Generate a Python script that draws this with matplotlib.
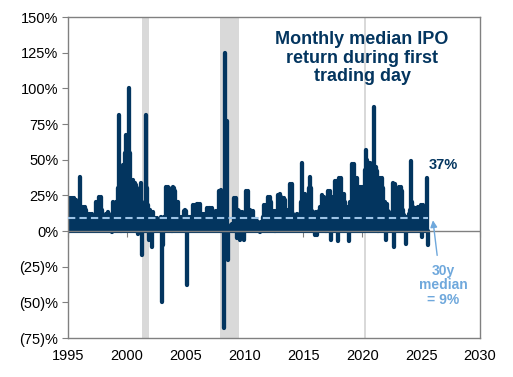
import matplotlib
matplotlib.use("Agg")
import matplotlib.pyplot as plt
import numpy as np

# monthly median first-day IPO return (%), Jan 1995 onwards
r1995 = [5, 8, 23, 22, 23, 20, 23, 21, 22, 13, 12, 15]
r1996 = [38, 12, 10, 17, 16, 17, 15, 8, 7, 12, 12, 11]
r1997 = [12, 8, 7, 6, 20, 18, 20, 24, 22, 24, 15, 10]
r1998 = [7, 6, 12, 11, 13, 12, 4, 3, -1, 20, 15, 18]
r1999 = [20, 16, 30, 81, 25, 20, 36, 30, 46, 40, 55, 67]
r2000 = [50, 60, 100, 55, 36, 34, 36, 33, 34, 32, 30, -2]
r2001 = [27, 26, 34, -17, 12, 14, 20, 81, 30, 18, -6, 15]
r2002 = [13, -11, 13, 9, 9, 8, 9, 4, 5, 4, 10, -50]
r2003 = [-10, 10, 8, 31, 28, 31, 30, 22, 18, 22, 20, 31]
r2004 = [30, 28, 18, 20, 20, 10, 8, 10, 9, 10, 14, 15]
r2005 = [14, -38, 10, 9, 10, 8, 10, 18, 17, 18, 15, 19]
r2006 = [19, 18, 19, 12, 12, 10, 12, 9, 10, 16, 15, 16]
r2007 = [16, 14, 16, 14, 12, 13, 14, 10, 12, 28, 22, 29]
r2008 = [20, 10, -68, 8, 125, 10, 77, -20, 3, 0, 4, 5]
r2009 = [5, 23, 20, 23, -5, 15, 14, -6, 12, 13, 12, -6]
r2010 = [13, 28, 25, 28, 14, 15, 14, 13, 14, 8, 7, 8]
r2011 = [7, 6, 5, -1, 6, 5, 10, 18, 15, 18, 12, 24]
r2012 = [22, 24, 20, 14, 12, 14, 10, 13, 14, 10, 25, 22]
r2013 = [26, 24, 22, 20, 23, 22, 14, 12, 15, 13, 33, 28]
r2014 = [33, 12, 9, 10, 8, 12, 10, 9, 12, 20, 48, 26]
r2015 = [12, 26, 13, 14, 20, 30, 38, 30, 14, 13, 12, -3]
r2016 = [13, -3, 10, 14, 17, 15, 25, 22, 24, 13, 12, 14]
r2017 = [14, 28, 25, 28, -6, 24, 22, 20, 35, 30, 35, -7]
r2018 = [37, 33, 37, 26, 25, 26, 20, 17, 15, 17, -7, 20]
r2019 = [18, 47, 40, 47, 37, 33, 37, 30, 31, 25, 31, 28]
r2020 = [31, 28, 43, 57, 50, 45, 48, 48, 45, 44, 48, 87]
r2021 = [45, 45, 42, 37, 37, 35, 37, 30, 37, 30, 19, 20]
r2022 = [-6, 19, 14, 13, 10, 8, 10, 34, -11, 33, 20, 19]
r2023 = [20, 31, 25, 31, 28, 15, 11, 10, -9, 10, 8, 12]
r2024 = [15, 49, 20, 17, 16, 15, 16, 14, 17, 15, 16, 18]
r2025 = [-4, 18, 15, 12, 14, 37, -10]

returns = np.array(r1995 + r1996 + r1997 + r1998 + r1999 + r2000 + r2001
                   + r2002 + r2003 + r2004 + r2005 + r2006 + r2007 + r2008
                   + r2009 + r2010 + r2011 + r2012 + r2013 + r2014 + r2015
                   + r2016 + r2017 + r2018 + r2019 + r2020 + r2021 + r2022
                   + r2023 + r2024 + r2025, dtype=float)
start_year = 1995
months = start_year + (np.arange(len(returns)) + 0.5) / 12.0

median_30y = 9
latest_label = "37%"

# recessions (decimal years)
recessions = [(2001.25, 2001.92), (2007.92, 2009.5), (2020.12, 2020.29)]

NAVY = "#03355F"
LIGHT_BLUE = "#9DC3E6"
ARROW_BLUE = "#6FA8DC"
GREY = "#808080"

plt.rcParams["font.family"] = ["Liberation Sans", "DejaVu Sans"]

fig = plt.figure(figsize=(5.13, 3.77), dpi=100)
ax = fig.add_axes([0.1326, 0.1034, 0.8031, 0.8515])

for a, b in recessions:
    ax.axvspan(a, b, color="#D9D9D9", lw=0, zorder=0)

ax.vlines(months, 0, returns, color=NAVY, lw=3.1, capstyle="round", zorder=2)
ax.plot([start_year, months[-1]], [median_30y, median_30y], color=LIGHT_BLUE,
        lw=1.5, dashes=(3.5, 2), zorder=3)
ax.axhline(0, color=GREY, lw=1.0, zorder=3)

ax.set_xlim(1995, 2030)
ax.set_ylim(-75, 150)
ax.set_xticks(np.arange(1995, 2031, 5))
ax.set_yticks(np.arange(-75, 151, 25))
ax.set_yticklabels([f"{v}%" if v >= 0 else f"({-v})%" for v in range(-75, 151, 25)])
ax.tick_params(axis="x", length=0, labelsize=10.5, pad=8)
ax.tick_params(axis="y", length=4, color=GREY, labelsize=10.5, pad=3)
for s in ax.spines.values():
    s.set_color(GREY)
    s.set_linewidth(1.0)

# tick marks sit on the zero line
zero_axis = ax.secondary_xaxis(75 / 225)
zero_axis.set_xticks(np.arange(1995, 2031, 5))
zero_axis.tick_params(length=4, color=GREY, labelbottom=False)
zero_axis.spines["bottom"].set_visible(False)

ax.text(0.714, 0.872, "Monthly median IPO\nreturn during first\ntrading day",
        transform=ax.transAxes, ha="center", va="center", fontsize=13,
        fontweight="bold", color=NAVY, linespacing=1.1, zorder=5)
ax.text(2026.86, 46, latest_label, ha="center", va="center", fontsize=10.5,
        fontweight="bold", color=NAVY)
ax.annotate(f"30y\nmedian\n= {median_30y}%", xy=(2026.0, 7.5),
            xytext=(2026.86, -38), ha="center", va="center", fontsize=10,
            fontweight="bold", color=ARROW_BLUE, linespacing=1.05,
            arrowprops=dict(arrowstyle="-|>", color=ARROW_BLUE, lw=1.0,
                            shrinkA=4, shrinkB=0, mutation_scale=10,
                            relpos=(0.4, 1.0)))

fig.savefig("out.png", dpi=100)
